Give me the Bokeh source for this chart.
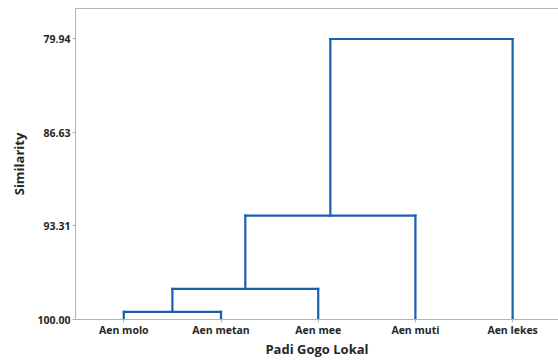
from bokeh.plotting import figure
from bokeh.models import Range1d, FixedTicker, ColumnDataSource, LinearAxis
from bokeh.embed import file_html
from bokeh.resources import INLINE

# ---- data ----
leaves = ["Aen molo", "Aen metan", "Aen mee", "Aen muti", "Aen lekes"]
# merges: (left child, right child); children >= len(leaves) refer to earlier merges
merges = [(0, 1), (5, 2), (6, 3), (7, 4)]
merge_similarity = [99.45, 97.81, 92.57, 79.94]
y_ticks = [79.94, 86.63, 93.31, 100.00]
leaf_similarity = 100.00
x_title = "Padi Gogo Lokal"
y_title = "Similarity"

# ---- build dendrogram segments ----
pos = {i: float(i + 1) for i in range(len(leaves))}
height = {i: leaf_similarity for i in range(len(leaves))}
x0, y0, x1, y1 = [], [], [], []
for k, (a, b) in enumerate(merges):
    h = merge_similarity[k]
    x0 += [pos[a], pos[b]]
    y0 += [height[a], height[b]]
    x1 += [pos[a], pos[b]]
    y1 += [h, h]
    x0.append(pos[a]); y0.append(h); x1.append(pos[b]); y1.append(h)
    nid = len(leaves) + k
    pos[nid] = (pos[a] + pos[b]) / 2.0
    height[nid] = h

src = ColumnDataSource(dict(x0=x0, y0=y0, x1=x1, y1=y1))

FONT = "Open Sans"
GRAY = "#b4b4b4"
p = figure(width=558, height=360, output_backend="svg", toolbar_location=None,
           x_range=Range1d(0.503, 5.472), y_range=Range1d(100.0, 77.76),
           min_border_left=75, min_border_right=0, min_border_top=8, min_border_bottom=40)

p.segment("x0", "y0", "x1", "y1", source=src, line_color="#1a5fae", line_width=2.2,
          line_cap="square", line_join="miter")

p.xgrid.grid_line_color = None
p.ygrid.grid_line_color = None
p.outline_line_color = None
p.background_fill_color = "white"
p.border_fill_color = "white"

xb = p.below[0]
yl = p.left[0]

# top frame line (axis without ticks or labels)
top = LinearAxis(ticker=FixedTicker(ticks=[]), axis_line_color=GRAY, axis_line_width=1,
                 major_tick_line_color=None, minor_tick_line_color=None,
                 major_tick_out=0, major_tick_in=0, major_label_standoff=0)
p.add_layout(top, "above")

# x axis
xb.ticker = FixedTicker(ticks=[float(i + 1) for i in range(len(leaves))])
xb.major_label_overrides = {float(i + 1): name for i, name in enumerate(leaves)}
xb.axis_label = x_title
# y axis
yl.ticker = FixedTicker(ticks=y_ticks)
yl.major_label_overrides = {t: f"{t:.2f}" for t in y_ticks}
yl.axis_label = y_title

for ax in (xb, yl):
    ax.axis_line_color = GRAY
    ax.axis_line_width = 1
    ax.major_tick_line_color = GRAY
    ax.major_tick_in = 0
    ax.major_tick_out = 3
    ax.minor_tick_line_color = None
    ax.major_label_text_font = FONT
    ax.major_label_text_font_size = "10.5px"
    ax.major_label_text_font_style = "bold"
    ax.major_label_text_color = "#262626"
    ax.axis_label_text_font = FONT
    ax.axis_label_text_font_size = "13px"
    ax.axis_label_text_font_style = "bold"
    ax.axis_label_text_color = "#262626"

xb.major_label_standoff = 0
xb.axis_label_standoff = 0
yl.major_label_standoff = 2
yl.axis_label_standoff = 6

open("out.html", "w").write(file_html(p, INLINE))
